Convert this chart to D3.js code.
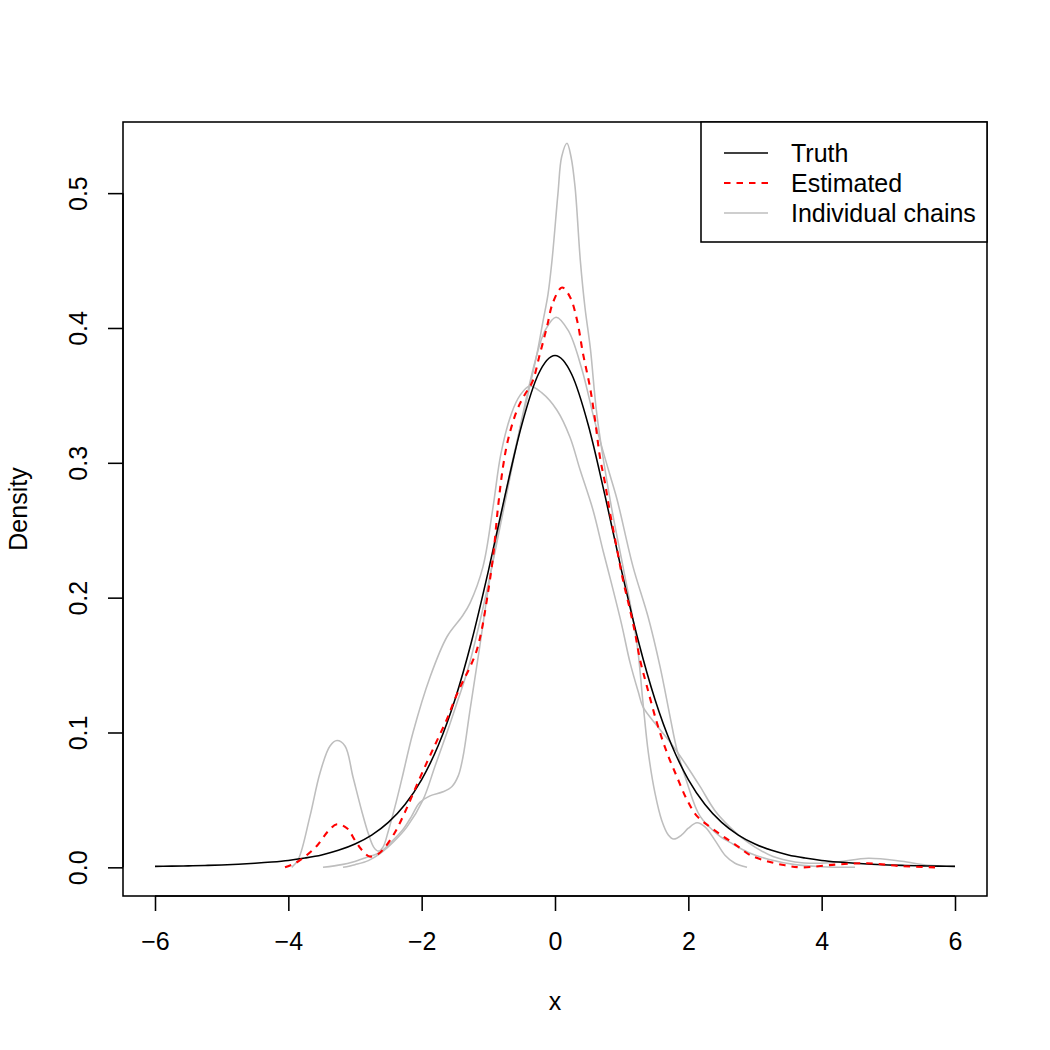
<!DOCTYPE html>
<html><head><meta charset="utf-8">
<script src="https://cdn.jsdelivr.net/npm/d3@7"></script>
<style>body{margin:0;background:#fff} svg{display:block}</style>
</head><body>
<script>
// ---- data ----
const xTicks = [-6, -4, -2, 0, 2, 4, 6];
const yTicks = [0, 0.1, 0.2, 0.3, 0.4, 0.5];
const xLabel = "x";
const yLabel = "Density";
const legendLabels = ["Truth", "Estimated", "Individual chains"];

const truthX = [-6,-5.75,-5.5,-5.25,-5,-4.75,-4.5,-4.25,-4,-3.75,-3.5,-3.25,-3,-2.75,-2.5,-2.25,-2,-1.75,-1.5,-1.25,-1,-0.75,-0.5,-0.25,0,
  0.25,0.5,0.75,1,1.25,1.5,1.75,2,2.25,2.5,2.75,3,3.25,3.5,3.75,4,4.25,4.5,4.75,5,5.25,5.5,5.75,6];
const truthY = [0.0007,0.0009,0.0011,0.0014,0.0018,0.0023,0.0030,0.0039,0.0051,0.0069,0.0092,0.0126,0.0173,0.0239,0.0333,0.0466,0.0651,0.0905,0.1245,0.1679,0.2197,0.2757,0.3279,0.3657,0.3796,
  0.3657,0.3279,0.2757,0.2197,0.1679,0.1245,0.0905,0.0651,0.0466,0.0333,0.0239,0.0173,0.0126,0.0092,0.0069,0.0051,0.0039,0.0030,0.0023,0.0018,0.0014,0.0011,0.0009,0.0007];

const estX = [-4.05,-3.9,-3.75,-3.57,-3.4,-3.27,-3.12,-3.0,-2.9,-2.78,-2.65,-2.55,-2.4,-2.25,-2.1,-1.92,-1.77,-1.62,-1.5,-1.4,-1.28,-1.18,-1.1,-1.02,-0.93,-0.855,-0.78,-0.7,-0.57,-0.46,-0.34,-0.225,-0.12,-0.03,0.105,0.225,0.33,0.42,0.525,0.6,0.675,0.75,0.825,0.93,1.02,1.125,1.2,1.275,1.38,1.53,1.68,1.83,1.98,2.13,2.325,2.52,2.73,2.93,3.18,3.45,3.7,4.2,4.68,5.17,5.7];
const estY = [0.0,0.003,0.008,0.016,0.027,0.032,0.029,0.02,0.013,0.008,0.01,0.015,0.026,0.041,0.058,0.078,0.094,0.11,0.125,0.136,0.148,0.16,0.176,0.199,0.23,0.267,0.297,0.318,0.339,0.35,0.36,0.381,0.401,0.419,0.430,0.423,0.406,0.381,0.356,0.332,0.304,0.285,0.263,0.236,0.213,0.191,0.174,0.154,0.134,0.107,0.085,0.067,0.05,0.038,0.030,0.023,0.016,0.009,0.0046,0.0015,0.0,0.002,0.003,0.001,0.0];

const chainAX = [-3.48,-3.2,-3.03,-2.85,-2.63,-2.45,-2.28,-2.15,-2.03,-1.875,-1.68,-1.545,-1.45,-1.38,-1.28,-1.125,-0.975,-0.825,-0.675,-0.55,-0.4,-0.27,-0.18,-0.105,-0.045,0.045,0.1,0.18,0.24,0.3,0.38,0.45,0.53,0.63,0.825,1.02,1.13,1.24,1.32,1.4,1.5,1.6,1.7,1.78,1.9,2.0,2.13,2.25,2.4,2.55,2.7,2.88];
const chainAY = [0.0,0.002,0.004,0.007,0.011,0.019,0.028,0.038,0.048,0.053,0.056,0.06,0.068,0.082,0.115,0.165,0.215,0.256,0.293,0.32,0.352,0.381,0.405,0.425,0.45,0.50,0.527,0.537,0.527,0.505,0.45,0.415,0.385,0.335,0.273,0.223,0.195,0.162,0.122,0.085,0.055,0.035,0.024,0.021,0.024,0.029,0.033,0.03,0.02,0.009,0.003,0.0];

const chainBX = [-3.18,-3.0,-2.8,-2.63,-2.42,-2.22,-1.98,-1.8,-1.62,-1.45,-1.3,-1.1,-0.9,-0.7,-0.5,-0.3,-0.15,0.015,0.2,0.4,0.6,0.8,0.93,1.17,1.395,1.575,1.725,1.83,1.98,2.175,2.475,2.625,2.9,3.2,3.6,4.0,4.5];
const chainBY = [0.0,0.002,0.005,0.01,0.019,0.03,0.05,0.075,0.1,0.125,0.148,0.188,0.234,0.283,0.332,0.375,0.398,0.408,0.398,0.37,0.33,0.295,0.273,0.223,0.186,0.149,0.112,0.087,0.063,0.038,0.023,0.0185,0.011,0.006,0.002,0.0005,0.0];

const chainCX = [-3.95,-3.85,-3.675,-3.525,-3.375,-3.27,-3.15,-3.03,-2.9,-2.8,-2.72,-2.65,-2.58,-2.5,-2.4,-2.3,-2.13,-1.875,-1.62,-1.395,-1.275,-1.08,-0.93,-0.81,-0.65,-0.525,-0.38,-0.2,0.03,0.225,0.375,0.57,0.72,0.85,1.0,1.125,1.25,1.32,1.53,1.77,1.98,2.175,2.4,2.62,2.8,3.0,3.27,3.6,3.9,4.25,4.7,5.2,5.6,6.0];
const chainCY = [0.0,0.006,0.038,0.07,0.09,0.094,0.09,0.067,0.042,0.025,0.015,0.012,0.015,0.027,0.045,0.065,0.10,0.141,0.171,0.186,0.196,0.223,0.267,0.307,0.337,0.350,0.357,0.352,0.339,0.319,0.295,0.265,0.235,0.21,0.18,0.152,0.13,0.119,0.105,0.090,0.075,0.06,0.042,0.03,0.022,0.015,0.008,0.004,0.003,0.004,0.0067,0.0045,0.0015,0.0008];

// ---- layout ----
const W = 1050, H = 1050;
const L = 123, R = 987, T = 122, B = 896;
const FONT = "'Liberation Sans', Arial, Helvetica, sans-serif";
const FS = 25;
const LW = 1.56;
const ymax = 0.5315;

const x = d3.scaleLinear().domain([-6.48, 6.48]).range([L, R]);
const y = d3.scaleLinear().domain([-0.04 * ymax, 1.04 * ymax]).range([B, T]);

const svg = d3.select("body").append("svg").attr("width", W).attr("height", H)
  .style("font-family", FONT).style("font-size", FS + "px");
svg.append("rect").attr("width", W).attr("height", H).attr("fill", "#fff");

svg.append("clipPath").attr("id", "plotclip").append("rect")
  .attr("x", L).attr("y", T).attr("width", R - L).attr("height", B - T);

const zip = (xs, ys) => xs.map((v, i) => [v, ys[i]]);
const lineM = d3.line().x(d => x(d[0])).y(d => y(d[1])).curve(d3.curveMonotoneX);
const lineC = d3.line().x(d => x(d[0])).y(d => y(Math.max(0, d[1]))).curve(d3.curveCatmullRom.alpha(0.5));

const g = svg.append("g").attr("clip-path", "url(#plotclip)");
[[chainAX, chainAY], [chainBX, chainBY], [chainCX, chainCY]].forEach(([xs, ys]) => {
  g.append("path").datum(zip(xs, ys)).attr("d", lineC)
    .attr("fill", "none").attr("stroke", "#BEBEBE").attr("stroke-width", LW);
});
g.append("path").datum(zip(truthX, truthY)).attr("d", lineM)
  .attr("fill", "none").attr("stroke", "#000").attr("stroke-width", LW);
g.append("path").datum(zip(estX, estY)).attr("d", lineC)
  .attr("fill", "none").attr("stroke", "#FF0000").attr("stroke-width", 2.1)
  .attr("stroke-dasharray", "6.5,6");

// ---- axes ----
const fmtX = d => (d < 0 ? "\u2212" + Math.abs(d) : String(d));
const xAxis = svg.append("g").attr("transform", `translate(0,${B})`)
  .call(d3.axisBottom(x).tickValues(xTicks).tickFormat(fmtX).tickSize(15).tickSizeOuter(0));
xAxis.select(".domain").remove();
xAxis.selectAll(".tick line").attr("stroke", "#000").attr("stroke-width", LW);
xAxis.selectAll(".tick text").attr("y", 54).attr("dy", 0)
  .style("font-family", FONT).style("font-size", FS + "px").attr("fill", "#000");
xAxis.append("line").attr("x1", x(xTicks[0])).attr("x2", x(xTicks[xTicks.length - 1]))
  .attr("y1", 0).attr("y2", 0).attr("stroke", "#000").attr("stroke-width", LW);

const yAxis = svg.append("g").attr("transform", `translate(${L},0)`)
  .call(d3.axisLeft(y).tickValues(yTicks).tickFormat(d3.format(".1f")).tickSize(15).tickSizeOuter(0));
yAxis.select(".domain").remove();
yAxis.selectAll(".tick line").attr("stroke", "#000").attr("stroke-width", LW);
yAxis.selectAll(".tick text").attr("x", 0).attr("dy", 0).attr("text-anchor", "middle")
  .attr("transform", "translate(-36,0) rotate(-90)")
  .style("font-family", FONT).style("font-size", FS + "px").attr("fill", "#000");
yAxis.append("line").attr("x1", 0).attr("x2", 0)
  .attr("y1", y(yTicks[0])).attr("y2", y(yTicks[yTicks.length - 1]))
  .attr("stroke", "#000").attr("stroke-width", LW);

// box
svg.append("rect").attr("x", L).attr("y", T).attr("width", R - L).attr("height", B - T)
  .attr("fill", "none").attr("stroke", "#000").attr("stroke-width", LW);

// axis titles
svg.append("text").attr("x", (L + R) / 2).attr("y", B + 114).attr("text-anchor", "middle").text(xLabel);
svg.append("text").attr("transform", `translate(${L - 96},${(T + B) / 2}) rotate(-90)`)
  .attr("text-anchor", "middle").text(yLabel);

// ---- legend ----
const legX0 = 701, legY0 = T, legW = R - 701, legH = 120;
const lg = svg.append("g");
lg.append("rect").attr("x", legX0).attr("y", legY0).attr("width", legW).attr("height", legH)
  .attr("fill", "#fff").attr("stroke", "#000").attr("stroke-width", LW);
const legStyles = [
  {stroke: "#000", dash: null, w: LW},
  {stroke: "#FF0000", dash: "6.5,6", w: 2.1},
  {stroke: "#BEBEBE", dash: null, w: LW}
];
legendLabels.forEach((lab, i) => {
  const cy = legY0 + 31 + i * 30;
  lg.append("line").attr("x1", legX0 + 23).attr("x2", legX0 + 67).attr("y1", cy).attr("y2", cy)
    .attr("stroke", legStyles[i].stroke).attr("stroke-width", legStyles[i].w)
    .attr("stroke-dasharray", legStyles[i].dash);
  lg.append("text").attr("x", legX0 + 90).attr("y", cy + 9).text(lab);
});
</script>
</body></html>
